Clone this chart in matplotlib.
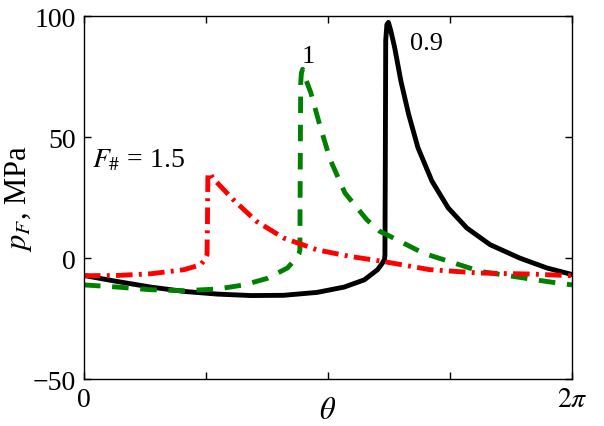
## Import libraries
import numpy as np
from matplotlib import pyplot as plt

plt.rcParams['font.family'] = ['Liberation Serif', 'DejaVu Serif']
plt.rcParams['mathtext.fontset'] = 'stix'

## Curves: theta (rad) and p_F (MPa)
## F# = 0.9 (black, solid)
theta_09 = [0.00, 0.43, 0.86, 1.29, 1.72, 2.15, 2.57, 3.00, 3.35, 3.61, 3.78,
            3.84, 3.87, 3.875, 3.88, 3.885, 3.90, 3.92, 3.95, 4.00, 4.08, 4.18,
            4.30, 4.48, 4.69, 4.93, 5.23, 5.61, 5.96, 6.2832]
p_09 = [-7.2, -9.7, -12.0, -13.8, -14.9, -15.5, -15.4, -14.2, -12.0, -9.0, -4.8,
        -2.2, -0.5, 1.4, 40.0, 90.0, 96.5, 97.4, 94.0, 87.0, 73.2, 59.4,
        45.6, 31.8, 20.7, 12.4, 5.5, 0.0, -4.1, -6.8]

## F# = 1 (green, dashed)
theta_1 = [0.00, 0.43, 0.86, 1.29, 1.72, 2.06, 2.36, 2.62, 2.72, 2.77, 2.78,
           2.785, 2.79, 2.80, 2.815, 2.86, 2.92, 3.04, 3.17, 3.36, 3.64, 3.81,
           3.94, 4.37, 5.10, 5.96, 6.2832]
p_1 = [-11.1, -12.0, -13.1, -13.5, -12.8, -11.1, -8.4, -4.1, -0.5, 2.0, 3.4,
       40.0, 72.0, 76.5, 78.0, 73.5, 68.4, 54.5, 40.7, 26.9, 15.9, 11.0,
       9.0, 2.0, -5.5, -9.7, -11.1]

## F# = 1.5 (red, dash-dot)
theta_15 = [0.00, 0.43, 0.86, 1.29, 1.50, 1.56, 1.585, 1.59, 1.595, 1.60, 1.62,
            1.66, 1.92, 2.22, 2.57, 3.00, 3.42, 3.85, 4.45, 5.10, 5.74, 6.2832]
p_15 = [-7.3, -7.2, -6.5, -4.8, -2.8, -0.5, 1.4, 15.0, 33.0, 35.0, 35.2,
        33.0, 24.2, 15.2, 8.3, 3.4, 0.7, -1.4, -4.8, -6.2, -6.6, -7.3]

xtick_pos = [0, np.pi / 2, np.pi, 3 * np.pi / 2, 2 * np.pi]
xtick_labels = ['0', '', '', '', r'$2\pi$']
ytick_pos = [-50, 0, 50, 100]

## Plot
fig = plt.figure(figsize=(6.04, 4.27), dpi=100)
ax = fig.add_axes([0.139, 0.110, 0.808, 0.850])

ax.plot(theta_09, p_09, color='black', lw=3.5, solid_joinstyle='round')
ax.plot(theta_1, p_1, color='green', lw=3.5, dashes=(3.4, 2.4))
ax.plot(theta_15, p_15, color='red', lw=3.5, dashes=(3.4, 1.3, 0.6, 1.3))

ax.set_xlim(0, 2 * np.pi)
ax.set_ylim(-50, 100)
ax.set_xticks(xtick_pos)
ax.set_xticklabels(xtick_labels)
ax.set_yticks(ytick_pos)
ax.tick_params(direction='in', top=True, right=True, length=5, width=1,
               labelsize=20, pad=6)
for s in ax.spines.values():
    s.set_linewidth(1)

ax.set_xlabel(r'$\theta$', fontsize=22, labelpad=-12)
ax.set_ylabel(r'$p_F$, MPa', fontsize=22, labelpad=-1)

ax.text(0.10, 37.8, r'$F_{\#}$ = 1.5', fontsize=20)
ax.text(2.89, 80.9, '1', fontsize=19, ha='center')
ax.text(4.20, 86.3, '0.9', fontsize=19)

plt.savefig('out.png', dpi=100)
plt.close('all')
